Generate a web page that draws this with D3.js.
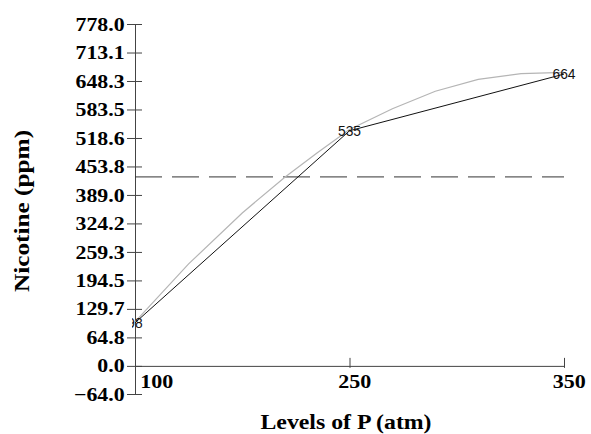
<!DOCTYPE html>
<html>
<head>
<meta charset="utf-8">
<script src="https://cdn.jsdelivr.net/npm/d3@7"></script>
<style>
  body { margin: 0; background: #fff; }
  .serif { font-family: "Liberation Serif", "Times New Roman", serif; font-weight: bold; fill: #000; }
  .val { font-family: "Liberation Sans", Arial, sans-serif; font-size: 15px; fill: #111; }
</style>
</head>
<body>
<div id="chart"></div>
<script>
// data
const xLevels = ["100", "250", "350"];
const nicotine = [98, 535, 664];
const yTicks = [778.0, 713.1, 648.3, 583.5, 518.6, 453.8, 389.0, 324.2, 259.3, 194.5, 129.7, 64.8, 0.0, -64.0];
// fitted (grey) curve, position along the level axis (0 = first level, 2 = last)
const fitPos = [0, 0.25, 0.5, 0.7, 0.85, 1, 1.2, 1.4, 1.6, 1.8, 2];
const fitVals = [100, 232, 348, 430, 485, 538, 585, 625, 652, 665, 668];
const meanLevel = 430;

const width = 591, height = 434;
const plotLeft = 135, plotRight = 564, plotTop = 24, plotBottom = 394;

let svg = d3.select("#chart")
    .append("svg")
    .attr("width", width)
    .attr("height", height);

// scales
let x = d3.scalePoint().domain(xLevels).range([plotLeft, plotRight]);
let xPos = d3.scaleLinear().domain([0, xLevels.length - 1]).range([plotLeft, plotRight]);
let y = d3.scaleLinear().domain([-64.0, 778.0]).range([plotBottom, plotTop]);

// y axis
let yAxis = svg.append("g")
    .attr("transform", `translate(${plotLeft},0)`)
    .call(d3.axisLeft(y).tickValues(yTicks).tickSizeOuter(0).tickSizeInner(8).tickFormat(d3.format(".1f")));
yAxis.select(".domain").attr("stroke", "#444");
yAxis.selectAll(".tick line").attr("x1", 7).attr("x2", -8).attr("stroke", "#444");
yAxis.selectAll(".tick text")
    .attr("class", "serif")
    .attr("x", -9)
    .style("font-size", "19px")
    .attr("transform", "scale(1.15,1)");

// x axis, sitting on zero
let xAxis = svg.append("g")
    .attr("transform", `translate(0,${y(0)})`)
    .call(d3.axisBottom(x).tickSizeOuter(0).tickSizeInner(-8).tickPadding(9));
xAxis.select(".domain").attr("stroke", "#444");
xAxis.selectAll(".tick line").attr("y1", 2).attr("y2", -8).attr("stroke", "#444");
xAxis.selectAll(".tick text")
    .attr("class", "serif")
    .style("font-size", "19px")
    .attr("x", 4)
    .attr("transform", "scale(1.16,1)");
xAxis.selectAll(".tick text").filter((d, i) => i == 0)
    .attr("text-anchor", "start")
    .attr("x", 4);

// dashed reference line
svg.append("line")
    .attr("x1", plotLeft)
    .attr("x2", plotRight)
    .attr("y1", y(meanLevel))
    .attr("y2", y(meanLevel))
    .attr("stroke", "#333")
    .attr("stroke-width", 1)
    .attr("stroke-dasharray", "27,10");

// grey fitted curve
let fitData = fitPos.map((p, i) => [p, fitVals[i]]);
svg.append("path")
    .datum(fitData)
    .attr("fill", "none")
    .attr("stroke", "#b5b5b5")
    .attr("stroke-width", 1.2)
    .attr("d", d3.line().x(d => xPos(d[0])).y(d => y(d[1])));

// black observed line
svg.append("path")
    .datum(nicotine)
    .attr("fill", "none")
    .attr("stroke", "#111")
    .attr("stroke-width", 1)
    .attr("d", d3.line().x((d, i) => x(xLevels[i])).y(d => y(d)));

// value labels, clipped near the axis
svg.append("clipPath")
    .attr("id", "plotClip")
    .append("rect")
    .attr("x", plotLeft - 3)
    .attr("y", 0)
    .attr("width", width - plotLeft + 3)
    .attr("height", height);

svg.append("g")
    .attr("clip-path", "url(#plotClip)")
    .selectAll("text")
    .data(nicotine)
    .enter()
    .append("text")
    .attr("class", "val")
    .attr("text-anchor", "middle")
    .attr("dy", "0.35em")
    .attr("transform", (d, i) => `translate(${x(xLevels[i])},${y(d)}) scale(0.92,1)`)
    .text(d => d);

// axis titles
svg.append("text")
    .attr("class", "serif")
    .attr("text-anchor", "middle")
    .style("font-size", "20px")
    .attr("transform", "translate(346,429) scale(1.19,1)")
    .text("Levels of P (atm)");

svg.append("text")
    .attr("class", "serif")
    .attr("text-anchor", "middle")
    .style("font-size", "22px")
    .attr("transform", "translate(29,211) rotate(-90) scale(1.15,1)")
    .text("Nicotine (ppm)");
</script>
</body>
</html>
